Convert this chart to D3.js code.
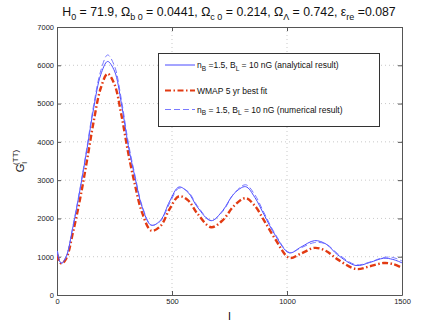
<!DOCTYPE html>
<html>
<head>
<meta charset="utf-8">
<script src="https://cdn.jsdelivr.net/npm/d3@7"></script>
<style>
  body { margin: 0; background: #fff; }
  text { font-family: "Liberation Sans", Arial, sans-serif; }
</style>
</head>
<body>
<div id="chart-area"></div>
<script>
// multipole l
var ells = [2, 10, 20, 40, 70, 100, 130, 160, 190, 220, 250, 280, 310, 340, 370, 410, 450, 490, 530, 570, 610, 670, 720, 770, 820, 860, 900, 950, 1010, 1060, 1120, 1170, 1220, 1300, 1360, 1420, 1460, 1500];

// n_B=1.5, B_L=10nG analytical
var analytical = [1150, 900, 830, 1000, 1800, 2750, 3800, 4900, 5750, 6100, 5850, 5000, 3900, 3050, 2300, 1820, 1950, 2450, 2820, 2680, 2300, 1940, 2200, 2650, 2830, 2550, 2100, 1550, 1100, 1250, 1420, 1330, 1050, 770, 850, 960, 930, 840];

// WMAP 5 yr best fit
var wmap = [1050, 870, 820, 950, 1650, 2500, 3500, 4550, 5400, 5780, 5500, 4700, 3700, 2850, 2150, 1680, 1800, 2250, 2580, 2470, 2130, 1770, 1950, 2330, 2530, 2330, 1950, 1450, 970, 1080, 1230, 1150, 930, 680, 750, 835, 810, 710];

// numerical result
var numerical = [1150, 900, 830, 1000, 1820, 2780, 3850, 4980, 5850, 6270, 5980, 5100, 3980, 3100, 2330, 1830, 1930, 2400, 2790, 2700, 2330, 1950, 2180, 2650, 2880, 2620, 2150, 1580, 1110, 1230, 1370, 1330, 1080, 790, 860, 980, 980, 890];

var xTicks = [0, 500, 1000, 1500];
var yTicks = [0, 1000, 2000, 3000, 4000, 5000, 6000, 7000];

var margin = {left: 57, right: 42, top: 27, bottom: 38};
var width = 444 - margin.left - margin.right,
    height = 333 - margin.top - margin.bottom;

var svg = d3.select("#chart-area")
    .append("svg")
    .attr("width", 444)
    .attr("height", 333);

var g = svg.append("g")
    .attr("transform", "translate(" + margin.left + "," + margin.top + ")");

var x = d3.scaleLinear().domain([0, 1500]).range([0, width]);
var y = d3.scaleLinear().domain([0, 7000]).range([height, 0]);

// grid
g.selectAll(".vgrid")
    .data(xTicks.slice(1, -1))
    .enter().append("line")
    .attr("x1", function(d) { return x(d); })
    .attr("x2", function(d) { return x(d); })
    .attr("y1", 0).attr("y2", height)
    .attr("stroke", "#bbb").attr("stroke-width", 0.8)
    .attr("stroke-dasharray", "1,3");

g.selectAll(".hgrid")
    .data(yTicks.slice(1, -1))
    .enter().append("line")
    .attr("y1", function(d) { return y(d); })
    .attr("y2", function(d) { return y(d); })
    .attr("x1", 0).attr("x2", width)
    .attr("stroke", "#bbb").attr("stroke-width", 0.8)
    .attr("stroke-dasharray", "1,3");

// axes
var fmt = d3.format("d");
var xAxis = g.append("g")
    .attr("transform", "translate(0," + height + ")")
    .call(d3.axisBottom(x).tickValues(xTicks).tickFormat(fmt).tickSizeInner(-4).tickSizeOuter(0).tickPadding(4));
var yAxis = g.append("g")
    .call(d3.axisLeft(y).tickValues(yTicks).tickFormat(fmt).tickSizeInner(-4).tickSizeOuter(0).tickPadding(3));
var xTop = g.append("g")
    .call(d3.axisTop(x).tickValues(xTicks).tickSizeInner(-4).tickSizeOuter(0).tickFormat(""));
var yRight = g.append("g")
    .attr("transform", "translate(" + width + ",0)")
    .call(d3.axisRight(y).tickValues(yTicks).tickSizeInner(-4).tickSizeOuter(0).tickFormat(""));

[xAxis, yAxis, xTop, yRight].forEach(function(a) {
    a.select(".domain").attr("stroke", "#555");
    a.selectAll(".tick line").attr("stroke", "#555");
    a.selectAll("text").attr("fill", "#222").style("font-size", "7.5px")
        .style("font-family", "'Liberation Sans', Arial, sans-serif");
});

// curves
var line = d3.line()
    .x(function(d) { return x(d[0]); })
    .y(function(d) { return y(d[1]); })
    .curve(d3.curveCatmullRom);

function pairs(vals) {
    return ells.map(function(l, i) { return [l, vals[i]]; });
}

var clip = g.append("clipPath").attr("id", "clip")
    .append("rect").attr("width", width).attr("height", height);

var curves = g.append("g").attr("clip-path", "url(#clip)");

curves.append("path")
    .attr("d", line(pairs(wmap)))
    .attr("fill", "none")
    .attr("stroke", "#e23a12")
    .attr("stroke-width", 2.4)
    .attr("stroke-dasharray", "6,2.5,1.5,2.5");

curves.append("path")
    .attr("d", line(pairs(analytical)))
    .attr("fill", "none")
    .attr("stroke", "#4b4bff")
    .attr("stroke-width", 1);

curves.append("path")
    .attr("d", line(pairs(numerical)))
    .attr("fill", "none")
    .attr("stroke", "#6a6aff")
    .attr("stroke-width", 0.9)
    .attr("stroke-dasharray", "6,3");

// legend
var leg = svg.append("g");
leg.append("rect")
    .attr("x", 158.5).attr("y", 53.5)
    .attr("width", 221).attr("height", 73)
    .attr("fill", "#fff").attr("stroke", "#333").attr("stroke-width", 1);

var legItems = [
    {y: 65, stroke: "#4b4bff", w: 1, dash: null, label: "an"},
    {y: 90.5, stroke: "#e23a12", w: 2.2, dash: "6,2.5,1.5,2.5", label: "wmap"},
    {y: 109.5, stroke: "#6a6aff", w: 0.9, dash: "6,3", label: "num"}
];
legItems.forEach(function(it) {
    leg.append("line")
        .attr("x1", 165).attr("x2", 195)
        .attr("y1", it.y).attr("y2", it.y)
        .attr("stroke", it.stroke).attr("stroke-width", it.w)
        .attr("stroke-dasharray", it.dash);
    var t = leg.append("text")
        .attr("x", 197).attr("y", it.y + 3)
        .style("font-size", "8.5px").attr("fill", "#111");
    if (it.label == "wmap") {
        t.text("WMAP 5 yr best fit");
    } else {
        t.append("tspan").text("n");
        t.append("tspan").attr("dy", 2.5).style("font-size", "6.5px").text("B");
        t.append("tspan").attr("dy", -2.5).text(it.label == "an" ? " =1.5, B" : " = 1.5, B");
        t.append("tspan").attr("dy", 2.5).style("font-size", "6.5px").text("L");
        t.append("tspan").attr("dy", -2.5).text(it.label == "an" ? " = 10 nG (analytical result)" : " = 10 nG (numerical result)");
    }
});

// title
var title = svg.append("text")
    .attr("x", 229).attr("y", 16)
    .attr("text-anchor", "middle")
    .style("font-size", "12.3px")
    .attr("fill", "#111");
var parts = [
    ["H", "0"], [" = 71.9, \u03a9", "b 0"], [" = 0.0441, \u03a9", "c 0"],
    [" = 0.214, \u03a9", "\u039b"], [" = 0.742, \u03b5", "re"], [" =0.087", null]
];
var shift = 0;
parts.forEach(function(p) {
    title.append("tspan").attr("dy", -shift).text(p[0]);
    shift = 0;
    if (p[1]) {
        title.append("tspan").attr("dy", 4).style("font-size", "9px").text(p[1]);
        shift = 4;
    }
});

// x label
svg.append("text")
    .attr("x", margin.left + width / 2).attr("y", 320)
    .attr("text-anchor", "middle")
    .style("font-size", "11px")
    .text("l");

// y label
var yl = svg.append("text")
    .attr("transform", "translate(24," + (margin.top + height / 2) + ") rotate(-90)")
    .attr("text-anchor", "middle")
    .style("font-size", "11px")
    .attr("fill", "#111");
yl.append("tspan").text("G");
yl.append("tspan").attr("dy", 3).style("font-size", "8px").text("l");
yl.append("tspan").attr("dy", -9).attr("dx", -3).style("font-size", "8px").text("(TT)");
</script>
</body>
</html>
